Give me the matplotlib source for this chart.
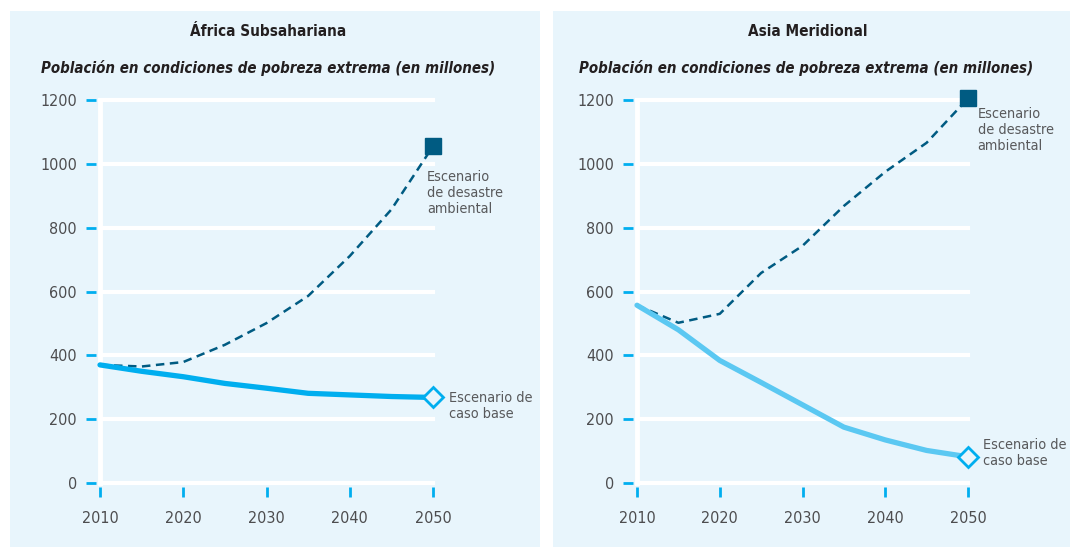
import matplotlib
matplotlib.use("Agg")
import matplotlib.pyplot as plt
from matplotlib.patches import Rectangle
from matplotlib import font_manager

# ---- data (millions of people in extreme poverty) ----
years = [2010, 2015, 2020, 2025, 2030, 2035, 2040, 2045, 2050]

africa_base = [370, 350, 333, 312, 297, 281, 276, 271, 268]
africa_disaster = [370, 365, 379, 433, 501, 586, 711, 857, 1055]

asia_base = [557, 480, 384, 315, 245, 175, 135, 102, 82]
asia_disaster = [557, 502, 530, 658, 743, 868, 975, 1066, 1205]

panel_titles = ["África Subsahariana", "Asia Meridional"]
subtitle = "Población en condiciones de pobreza extrema (en millones)"
label_disaster = "Escenario\nde desastre\nambiental"
label_base = "Escenario de\ncaso base"
x_ticks = [2010, 2020, 2030, 2040, 2050]
y_ticks = [0, 200, 400, 600, 800, 1000, 1200]

# ---- styling ----
installed = {f.name for f in font_manager.fontManager.ttflist}
narrow = "Liberation Sans Narrow" if "Liberation Sans Narrow" in installed else "DejaVu Sans"
plt.rcParams["font.family"] = [narrow, "DejaVu Sans"]
plt.rcParams["font.stretch"] = "condensed"

BG = "#e8f5fc"
CYAN = "#00aeef"
LIGHT_CYAN = "#5bc8f2"
DARK = "#005b82"
TXT = "#4d4d4f"
NOTE = "#58595b"

W, H = 1070, 547
fig = plt.figure(figsize=(W / 100, H / 100), dpi=100)

# panel backgrounds
for x0, x1 in [(10, 540), (553, 1070)]:
    fig.patches.append(Rectangle((x0 / W, 0), (x1 - x0) / W, (547 - 11) / H,
                                 transform=fig.transFigure, facecolor=BG,
                                 edgecolor="none", zorder=-10))

panels = [
    dict(left=100, right=433, title_x=268, sub_x=41,
         base=africa_base, dis=africa_disaster, base_color=CYAN,
         dis_off=(-4.5, -17), dis_va="top",
         base_off=(11.5, -6)),
    dict(left=637, right=968, title_x=808, sub_x=579,
         base=asia_base, dis=asia_disaster, base_color=LIGHT_CYAN,
         dis_off=(7, -6), dis_va="top",
         base_off=(11, 3)),
]

top_px, bot_px = 100, 483
for i, p in enumerate(panels):
    ax = fig.add_axes([p["left"] / W, (H - bot_px) / H,
                       (p["right"] - p["left"]) / W, (bot_px - top_px) / H])
    ax.set_facecolor("none")
    ax.set_xlim(2010, 2050)
    ax.set_ylim(0, 1200)

    # white grid and y axis line
    for v in y_ticks:
        ax.axhline(v, color="white", lw=3, zorder=1, clip_on=False)
    ax.axvline(2010, color="white", lw=3.5, zorder=1, clip_on=False)

    for s in ax.spines.values():
        s.set_visible(False)
    ax.spines["left"].set_position(("outward", 3))
    ax.spines["bottom"].set_position(("outward", 3))

    ax.set_xticks(x_ticks)
    ax.set_yticks(y_ticks)
    ax.tick_params(axis="y", direction="out", length=7.5, width=2, color=CYAN,
                   labelsize=11.5, labelcolor=TXT, pad=6)
    ax.tick_params(axis="x", direction="out", length=7.5, width=2, color=CYAN,
                   labelsize=11.5, labelcolor=TXT, pad=10)

    # lines
    ax.plot(years, p["dis"], color=DARK, lw=1.8, ls=(0, (3.4, 2.2)),
            zorder=3, clip_on=False)
    ax.plot(years, p["base"], color=p["base_color"], lw=3.8, zorder=4,
            solid_capstyle="round", solid_joinstyle="round", clip_on=False)

    # end markers
    ax.plot([years[-1]], [p["dis"][-1]], marker="s", ms=11, color=DARK,
            mec=DARK, zorder=5, clip_on=False)
    ax.plot([years[-1]], [p["base"][-1]], marker="D", ms=10, mfc=BG,
            mec=CYAN, mew=2, zorder=5, clip_on=False)

    ax.annotate(label_disaster, xy=(years[-1], p["dis"][-1]),
                xytext=p["dis_off"], textcoords="offset points",
                ha="left", va=p["dis_va"], fontsize=10.4, color=NOTE,
                linespacing=1.2, annotation_clip=False)
    ax.annotate(label_base, xy=(years[-1], p["base"][-1]),
                xytext=p["base_off"], textcoords="offset points",
                ha="left", va="center", fontsize=10.4, color=NOTE,
                linespacing=1.2, annotation_clip=False)

    fig.text(p["title_x"] / W, (H - 32) / H, panel_titles[i], ha="center",
             va="center", fontsize=11, fontweight="bold", color="#231f20")
    fig.text(p["sub_x"] / W, (H - 68) / H, subtitle, ha="left",
             va="center", fontsize=10.8, fontweight="bold", fontstyle="italic",
             color="#231f20")

fig.savefig("out.png", dpi=100)
